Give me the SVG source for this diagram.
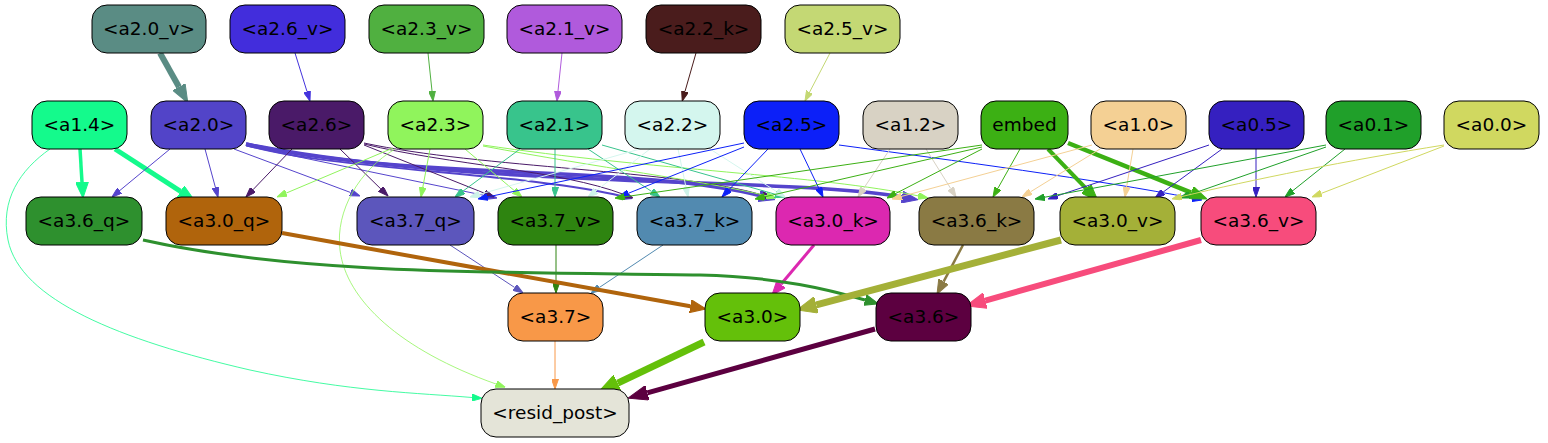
<svg xmlns="http://www.w3.org/2000/svg" width="1548" height="443" viewBox="0 0 1548 443">
<style>
.n rect{stroke:#000;stroke-width:1}
.n text{font-family:"DejaVu Sans","Liberation Sans",sans-serif;font-size:18.5px;text-anchor:middle;fill:#000}
.e path{fill:none}
</style>
<defs>
<marker id="t-26v" viewBox="0 0 10 7" refX="0" refY="3.5" markerWidth="10" markerHeight="7" markerUnits="userSpaceOnUse" orient="auto"><path d="M0,0L10,3.5L0,7z" fill="#4433dd" stroke="#4433dd"/></marker>
<marker id="t-23v" viewBox="0 0 10 7" refX="0" refY="3.5" markerWidth="10" markerHeight="7" markerUnits="userSpaceOnUse" orient="auto"><path d="M0,0L10,3.5L0,7z" fill="#50b040" stroke="#50b040"/></marker>
<marker id="t-21v" viewBox="0 0 10 7" refX="0" refY="3.5" markerWidth="10" markerHeight="7" markerUnits="userSpaceOnUse" orient="auto"><path d="M0,0L10,3.5L0,7z" fill="#b05adc" stroke="#b05adc"/></marker>
<marker id="t-22k" viewBox="0 0 10 7" refX="0" refY="3.5" markerWidth="10" markerHeight="7" markerUnits="userSpaceOnUse" orient="auto"><path d="M0,0L10,3.5L0,7z" fill="#4a1c1c" stroke="#4a1c1c"/></marker>
<marker id="t-25v" viewBox="0 0 10 7" refX="0" refY="3.5" markerWidth="10" markerHeight="7" markerUnits="userSpaceOnUse" orient="auto"><path d="M0,0L10,3.5L0,7z" fill="#c4d874" stroke="#c4d874"/></marker>
<marker id="t-14" viewBox="0 0 10 7" refX="0" refY="3.5" markerWidth="10" markerHeight="7" markerUnits="userSpaceOnUse" orient="auto"><path d="M0,0L10,3.5L0,7z" fill="#14fa8c" stroke="#14fa8c"/></marker>
<marker id="t-20" viewBox="0 0 10 7" refX="0" refY="3.5" markerWidth="10" markerHeight="7" markerUnits="userSpaceOnUse" orient="auto"><path d="M0,0L10,3.5L0,7z" fill="#5544cc" stroke="#5544cc"/></marker>
<marker id="t-26" viewBox="0 0 10 7" refX="0" refY="3.5" markerWidth="10" markerHeight="7" markerUnits="userSpaceOnUse" orient="auto"><path d="M0,0L10,3.5L0,7z" fill="#4a1a68" stroke="#4a1a68"/></marker>
<marker id="t-23" viewBox="0 0 10 7" refX="0" refY="3.5" markerWidth="10" markerHeight="7" markerUnits="userSpaceOnUse" orient="auto"><path d="M0,0L10,3.5L0,7z" fill="#90f45c" stroke="#90f45c"/></marker>
<marker id="t-21" viewBox="0 0 10 7" refX="0" refY="3.5" markerWidth="10" markerHeight="7" markerUnits="userSpaceOnUse" orient="auto"><path d="M0,0L10,3.5L0,7z" fill="#38c48c" stroke="#38c48c"/></marker>
<marker id="t-22" viewBox="0 0 10 7" refX="0" refY="3.5" markerWidth="10" markerHeight="7" markerUnits="userSpaceOnUse" orient="auto"><path d="M0,0L10,3.5L0,7z" fill="#cdf2e8" stroke="#cdf2e8"/></marker>
<marker id="t-25" viewBox="0 0 10 7" refX="0" refY="3.5" markerWidth="10" markerHeight="7" markerUnits="userSpaceOnUse" orient="auto"><path d="M0,0L10,3.5L0,7z" fill="#0c20f8" stroke="#0c20f8"/></marker>
<marker id="t-12" viewBox="0 0 10 7" refX="0" refY="3.5" markerWidth="10" markerHeight="7" markerUnits="userSpaceOnUse" orient="auto"><path d="M0,0L10,3.5L0,7z" fill="#d8d2c4" stroke="#d8d2c4"/></marker>
<marker id="t-em" viewBox="0 0 10 7" refX="0" refY="3.5" markerWidth="10" markerHeight="7" markerUnits="userSpaceOnUse" orient="auto"><path d="M0,0L10,3.5L0,7z" fill="#3cb014" stroke="#3cb014"/></marker>
<marker id="t-10" viewBox="0 0 10 7" refX="0" refY="3.5" markerWidth="10" markerHeight="7" markerUnits="userSpaceOnUse" orient="auto"><path d="M0,0L10,3.5L0,7z" fill="#f4d094" stroke="#f4d094"/></marker>
<marker id="t-05" viewBox="0 0 10 7" refX="0" refY="3.5" markerWidth="10" markerHeight="7" markerUnits="userSpaceOnUse" orient="auto"><path d="M0,0L10,3.5L0,7z" fill="#3520c0" stroke="#3520c0"/></marker>
<marker id="t-01" viewBox="0 0 10 7" refX="0" refY="3.5" markerWidth="10" markerHeight="7" markerUnits="userSpaceOnUse" orient="auto"><path d="M0,0L10,3.5L0,7z" fill="#20a02a" stroke="#20a02a"/></marker>
<marker id="t-00" viewBox="0 0 10 7" refX="0" refY="3.5" markerWidth="10" markerHeight="7" markerUnits="userSpaceOnUse" orient="auto"><path d="M0,0L10,3.5L0,7z" fill="#d0d860" stroke="#d0d860"/></marker>
<marker id="t-37q" viewBox="0 0 10 7" refX="0" refY="3.5" markerWidth="10" markerHeight="7" markerUnits="userSpaceOnUse" orient="auto"><path d="M0,0L10,3.5L0,7z" fill="#5c56bc" stroke="#5c56bc"/></marker>
<marker id="t-37v" viewBox="0 0 10 7" refX="0" refY="3.5" markerWidth="10" markerHeight="7" markerUnits="userSpaceOnUse" orient="auto"><path d="M0,0L10,3.5L0,7z" fill="#2e8410" stroke="#2e8410"/></marker>
<marker id="t-37k" viewBox="0 0 10 7" refX="0" refY="3.5" markerWidth="10" markerHeight="7" markerUnits="userSpaceOnUse" orient="auto"><path d="M0,0L10,3.5L0,7z" fill="#528ab0" stroke="#528ab0"/></marker>
<marker id="t-37" viewBox="0 0 10 7" refX="0" refY="3.5" markerWidth="10" markerHeight="7" markerUnits="userSpaceOnUse" orient="auto"><path d="M0,0L10,3.5L0,7z" fill="#f89848" stroke="#f89848"/></marker>
<marker id="k-20v" viewBox="0 0 18 14" refX="0" refY="7" markerWidth="18" markerHeight="14" markerUnits="userSpaceOnUse" orient="auto"><path d="M0,0L18,7L0,14z" fill="#5a8c84" stroke="#5a8c84"/></marker>
<marker id="k-14" viewBox="0 0 16 13" refX="0" refY="6.5" markerWidth="16" markerHeight="13" markerUnits="userSpaceOnUse" orient="auto"><path d="M0,0L16,6.5L0,13z" fill="#14fa8c" stroke="#14fa8c"/></marker>
<marker id="k-20" viewBox="0 0 16 12" refX="0" refY="6" markerWidth="16" markerHeight="12" markerUnits="userSpaceOnUse" orient="auto"><path d="M0,0L16,6L0,12z" fill="#5544cc" stroke="#5544cc"/></marker>
<marker id="k-em" viewBox="0 0 17 13" refX="0" refY="6.5" markerWidth="17" markerHeight="13" markerUnits="userSpaceOnUse" orient="auto"><path d="M0,0L17,6.5L0,13z" fill="#3cb014" stroke="#3cb014"/></marker>
<marker id="k-30q" viewBox="0 0 16 13" refX="0" refY="6.5" markerWidth="16" markerHeight="13" markerUnits="userSpaceOnUse" orient="auto"><path d="M0,0L16,6.5L0,13z" fill="#b0640c" stroke="#b0640c"/></marker>
<marker id="k-30k" viewBox="0 0 14 11" refX="0" refY="5.5" markerWidth="14" markerHeight="11" markerUnits="userSpaceOnUse" orient="auto"><path d="M0,0L14,5.5L0,11z" fill="#dc28b0" stroke="#dc28b0"/></marker>
<marker id="k-36q" viewBox="0 0 14 11" refX="0" refY="5.5" markerWidth="14" markerHeight="11" markerUnits="userSpaceOnUse" orient="auto"><path d="M0,0L14,5.5L0,11z" fill="#2e902e" stroke="#2e902e"/></marker>
<marker id="k-36k" viewBox="0 0 14 11" refX="0" refY="5.5" markerWidth="14" markerHeight="11" markerUnits="userSpaceOnUse" orient="auto"><path d="M0,0L14,5.5L0,11z" fill="#8a7a44" stroke="#8a7a44"/></marker>
<marker id="k-30v" viewBox="0 0 20 17" refX="0" refY="8.5" markerWidth="20" markerHeight="17" markerUnits="userSpaceOnUse" orient="auto"><path d="M0,0L20,8.5L0,17z" fill="#a4b038" stroke="#a4b038"/></marker>
<marker id="k-36v" viewBox="0 0 20 16" refX="0" refY="8" markerWidth="20" markerHeight="16" markerUnits="userSpaceOnUse" orient="auto"><path d="M0,0L20,8L0,16z" fill="#f74c7c" stroke="#f74c7c"/></marker>
<marker id="k-30" viewBox="0 0 22 18" refX="0" refY="9" markerWidth="22" markerHeight="18" markerUnits="userSpaceOnUse" orient="auto"><path d="M0,0L22,9L0,18z" fill="#64c00a" stroke="#64c00a"/></marker>
<marker id="k-36" viewBox="0 0 20 15" refX="0" refY="7.5" markerWidth="20" markerHeight="15" markerUnits="userSpaceOnUse" orient="auto"><path d="M0,0L20,7.5L0,15z" fill="#5c0040" stroke="#5c0040"/></marker>
</defs>
<g id="edges" class="e">
<path d="M160,53L179,87" stroke="#5a8c84" stroke-width="6" marker-end="url(#k-20v)"/>
<path d="M295,53L307,91.5" stroke="#4433dd" marker-end="url(#t-26v)"/>
<path d="M428,53L432,91" stroke="#50b040" marker-end="url(#t-23v)"/>
<path d="M562,53L558,91" stroke="#b05adc" marker-end="url(#t-21v)"/>
<path d="M696,53L685,91.4" stroke="#4a1c1c" marker-end="url(#t-22k)"/>
<path d="M830,53L809.6,92.1" stroke="#c4d874" marker-end="url(#t-25v)"/>
<path d="M80,149L82,182" stroke="#14fa8c" stroke-width="3.5" marker-end="url(#k-14)"/>
<path d="M115,149L180.6,191.3" stroke="#14fa8c" stroke-width="5" marker-end="url(#k-14)"/>
<path d="M50,149C20,170 0,200 8,240C20,300 120,340 250,370C350,392 420,393 472,397.5" stroke="#14fa8c" stroke-width="0.8" marker-end="url(#t-14)"/>
<path d="M170,149L119.7,190.6" stroke="#5544cc" marker-end="url(#t-20)"/>
<path d="M205,149L215.4,187.4" stroke="#5544cc" marker-end="url(#t-20)"/>
<path d="M234,149L350.6,192.5" stroke="#5544cc" marker-end="url(#t-20)"/>
<path d="M246,146L487.2,196" stroke="#5544cc" marker-end="url(#t-20)"/>
<path d="M246,145C330,170 520,172 622.3,196.2" stroke="#5544cc" stroke-width="2" marker-end="url(#t-20)"/>
<path d="M246,144C400,180 640,165 759.4,195.6" stroke="#5544cc" stroke-width="3.5" marker-end="url(#k-20)"/>
<path d="M246,144C480,190 780,176 902,197" stroke="#5544cc" stroke-width="3.5" marker-end="url(#k-20)"/>
<path d="M292,149L252.9,189.8" stroke="#4a1a68" marker-end="url(#t-26)"/>
<path d="M340,149L380.9,189" stroke="#4a1a68" marker-end="url(#t-26)"/>
<path d="M364,145L484.7,193.3" stroke="#4a1a68" marker-end="url(#t-26)"/>
<path d="M364,144C450,165 560,170 623.7,194.4" stroke="#4a1a68" marker-end="url(#t-26)"/>
<path d="M364,143C480,168 680,170 762.4,195.1" stroke="#4a1a68" marker-end="url(#t-26)"/>
<path d="M393,148L286.2,193.1" stroke="#90f45c" marker-end="url(#t-23)"/>
<path d="M430,149L422.8,187.2" stroke="#90f45c" marker-end="url(#t-23)"/>
<path d="M465,149L514.3,190.6" stroke="#90f45c" marker-end="url(#t-23)"/>
<path d="M483,146C600,168 700,180 766.3,195.7" stroke="#90f45c" marker-end="url(#t-23)"/>
<path d="M483,145C650,170 820,175 918.2,195.9" stroke="#90f45c" marker-end="url(#t-23)"/>
<path d="M395,149C360,170 335,210 340,250C346,300 400,350 496,384" stroke="#90f45c" stroke-width="0.8" marker-end="url(#t-23)"/>
<path d="M520,149L463,191.1" stroke="#38c48c" marker-end="url(#t-21)"/>
<path d="M555,149L555,187" stroke="#38c48c" marker-end="url(#t-21)"/>
<path d="M588,149L651.7,191.5" stroke="#38c48c" marker-end="url(#t-21)"/>
<path d="M602,145L775.4,194.3" stroke="#38c48c" marker-end="url(#t-21)"/>
<path d="M640,149L479.6,194.3" stroke="#d4f6ee" marker-end="url(#t-22)"/>
<path d="M650,149L595.9,190.9" stroke="#d4f6ee" marker-end="url(#t-22)"/>
<path d="M678,149L686,187.2" stroke="#d4f6ee" marker-end="url(#t-22)"/>
<path d="M710,149L776.6,191.6" stroke="#d4f6ee" marker-end="url(#t-22)"/>
<path d="M744,143L487.8,196.9" stroke="#0c20f8" marker-end="url(#t-25)"/>
<path d="M744,147L628.3,193.3" stroke="#0c20f8" marker-end="url(#t-25)"/>
<path d="M768,149L728.9,189.8" stroke="#0c20f8" marker-end="url(#t-25)"/>
<path d="M800,149L818.7,188" stroke="#0c20f8" marker-end="url(#t-25)"/>
<path d="M839,145C950,160 1100,180 1192.2,198.1" stroke="#0c20f8" marker-end="url(#t-25)"/>
<path d="M890,149L863.5,188.7" stroke="#d8d2c4" marker-end="url(#t-12)"/>
<path d="M926,149L950.7,188.5" stroke="#d8d2c4" marker-end="url(#t-12)"/>
<path d="M982,145L624.7,196.8" stroke="#3cb014" marker-end="url(#t-em)"/>
<path d="M982,147L764.7,196.8" stroke="#3cb014" marker-end="url(#t-em)"/>
<path d="M982,149L895.9,193.4" stroke="#3cb014" marker-end="url(#t-em)"/>
<path d="M1020,149L997.9,188.3" stroke="#3cb014" marker-end="url(#t-em)"/>
<path d="M1048,149L1086.2,188.7" stroke="#3cb014" stroke-width="4" marker-end="url(#k-em)"/>
<path d="M1068,143L1191.2,192.6" stroke="#3cb014" stroke-width="4.5" marker-end="url(#k-em)"/>
<path d="M1092,145L901.7,196.4" stroke="#f4d094" marker-end="url(#t-10)"/>
<path d="M1100,149L1030.5,191.8" stroke="#f4d094" marker-end="url(#t-10)"/>
<path d="M1133,149L1126.6,187.1" stroke="#f4d094" marker-end="url(#t-10)"/>
<path d="M1209,145L1057.5,195.8" stroke="#3520c0" marker-end="url(#t-05)"/>
<path d="M1222,149L1163.1,192.1" stroke="#3520c0" marker-end="url(#t-05)"/>
<path d="M1256,149L1256,187" stroke="#3520c0" marker-end="url(#t-05)"/>
<path d="M1326,145L1044.8,197.2" stroke="#20a02a" marker-end="url(#t-01)"/>
<path d="M1326,147L1189.4,194.7" stroke="#20a02a" marker-end="url(#t-01)"/>
<path d="M1345,149L1292.8,190.7" stroke="#20a02a" marker-end="url(#t-01)"/>
<path d="M1444,145C1350,160 1250,180 1181.7,196.6" stroke="#d0d860" marker-end="url(#t-00)"/>
<path d="M1444,146L1321.3,193.4" stroke="#d0d860" marker-end="url(#t-00)"/>
<path d="M450,245L514.7,287.5" stroke="#5c56bc" marker-end="url(#t-37q)"/>
<path d="M556,245L556,283" stroke="#2e8410" marker-end="url(#t-37v)"/>
<path d="M663,245L599.3,287.5" stroke="#528ab0" marker-end="url(#t-37k)"/>
<path d="M282,233L690.3,306.2" stroke="#b0640c" stroke-width="4" marker-end="url(#k-30q)"/>
<path d="M814,245L781,284.3" stroke="#dc28b0" stroke-width="3" marker-end="url(#k-30k)"/>
<path d="M143,240C300,275 500,272 700,275C780,277 830,290 865,300" stroke="#2e902e" stroke-width="3" marker-end="url(#k-36q)"/>
<path d="M963,245L943.6,281.6" stroke="#8a7a44" stroke-width="2.5" marker-end="url(#k-36k)"/>
<path d="M1061,240L816.3,304.9" stroke="#a4b038" stroke-width="7" marker-end="url(#k-30v)"/>
<path d="M1201,240L985.3,300.6" stroke="#f74c7c" stroke-width="6" marker-end="url(#k-36v)"/>
<path d="M555,341L555,379" stroke="#f89848" marker-end="url(#t-37)"/>
<path d="M704,342L617.7,383.2" stroke="#64c00a" stroke-width="7" marker-end="url(#k-30)"/>
<path d="M875,329L647.3,392.8" stroke="#5c0040" stroke-width="5" marker-end="url(#k-36)"/>
</g>
<g id="a2.0_v" class="n"><rect x="92" y="5" width="114" height="48" rx="15" fill="#5a8c84"/><text x="149" y="35">&lt;a2.0_v&gt;</text></g>
<g id="a2.6_v" class="n"><rect x="230" y="5" width="115" height="48" rx="15" fill="#422ddc"/><text x="287.5" y="35">&lt;a2.6_v&gt;</text></g>
<g id="a2.3_v" class="n"><rect x="369" y="5" width="115" height="48" rx="15" fill="#50b040"/><text x="426.5" y="35">&lt;a2.3_v&gt;</text></g>
<g id="a2.1_v" class="n"><rect x="507" y="5" width="115" height="48" rx="15" fill="#b05adc"/><text x="564.5" y="35">&lt;a2.1_v&gt;</text></g>
<g id="a2.2_k" class="n"><rect x="646" y="5" width="115" height="48" rx="15" fill="#4a1c1c"/><text x="703.5" y="35">&lt;a2.2_k&gt;</text></g>
<g id="a2.5_v" class="n"><rect x="785" y="5" width="115" height="48" rx="15" fill="#c4d874"/><text x="842.5" y="35">&lt;a2.5_v&gt;</text></g>
<g id="a1.4" class="n"><rect x="32" y="101" width="95" height="48" rx="15" fill="#14fa8c"/><text x="79.5" y="131">&lt;a1.4&gt;</text></g>
<g id="a2.0" class="n"><rect x="151" y="101" width="95" height="48" rx="15" fill="#5244c8"/><text x="198.5" y="131">&lt;a2.0&gt;</text></g>
<g id="a2.6" class="n"><rect x="269" y="101" width="95" height="48" rx="15" fill="#4a1a68"/><text x="316.5" y="131">&lt;a2.6&gt;</text></g>
<g id="a2.3" class="n"><rect x="388" y="101" width="95" height="48" rx="15" fill="#90f45c"/><text x="435.5" y="131">&lt;a2.3&gt;</text></g>
<g id="a2.1" class="n"><rect x="507" y="101" width="95" height="48" rx="15" fill="#38c48c"/><text x="554.5" y="131">&lt;a2.1&gt;</text></g>
<g id="a2.2" class="n"><rect x="625" y="101" width="95" height="48" rx="15" fill="#d4f6ee"/><text x="672.5" y="131">&lt;a2.2&gt;</text></g>
<g id="a2.5" class="n"><rect x="744" y="101" width="95" height="48" rx="15" fill="#0c20f8"/><text x="791.5" y="131">&lt;a2.5&gt;</text></g>
<g id="a1.2" class="n"><rect x="863" y="101" width="95" height="48" rx="15" fill="#d8d2c4"/><text x="910.5" y="131">&lt;a1.2&gt;</text></g>
<g id="embed" class="n"><rect x="981" y="101" width="87" height="48" rx="15" fill="#3cb014"/><text x="1024.5" y="131">embed</text></g>
<g id="a1.0" class="n"><rect x="1091" y="101" width="95" height="48" rx="15" fill="#f4d094"/><text x="1138.5" y="131">&lt;a1.0&gt;</text></g>
<g id="a0.5" class="n"><rect x="1209" y="101" width="95" height="48" rx="15" fill="#3520c0"/><text x="1256.5" y="131">&lt;a0.5&gt;</text></g>
<g id="a0.1" class="n"><rect x="1326" y="101" width="95" height="48" rx="15" fill="#20a02a"/><text x="1373.5" y="131">&lt;a0.1&gt;</text></g>
<g id="a0.0" class="n"><rect x="1444" y="101" width="95" height="48" rx="15" fill="#d0d860"/><text x="1491.5" y="131">&lt;a0.0&gt;</text></g>
<g id="a3.6_q" class="n"><rect x="26" y="197" width="116" height="48" rx="15" fill="#2e902e"/><text x="84" y="227">&lt;a3.6_q&gt;</text></g>
<g id="a3.0_q" class="n"><rect x="166" y="197" width="116" height="48" rx="15" fill="#b0640c"/><text x="224" y="227">&lt;a3.0_q&gt;</text></g>
<g id="a3.7_q" class="n"><rect x="357" y="197" width="117" height="48" rx="15" fill="#5c56bc"/><text x="415.5" y="227">&lt;a3.7_q&gt;</text></g>
<g id="a3.7_v" class="n"><rect x="498" y="197" width="115" height="48" rx="15" fill="#2e8410"/><text x="555.5" y="227">&lt;a3.7_v&gt;</text></g>
<g id="a3.7_k" class="n"><rect x="637" y="197" width="115" height="48" rx="15" fill="#528ab0"/><text x="694.5" y="227">&lt;a3.7_k&gt;</text></g>
<g id="a3.0_k" class="n"><rect x="776" y="197" width="114" height="48" rx="15" fill="#dc28b0"/><text x="833" y="227">&lt;a3.0_k&gt;</text></g>
<g id="a3.6_k" class="n"><rect x="919" y="197" width="115" height="48" rx="15" fill="#8a7a44"/><text x="976.5" y="227">&lt;a3.6_k&gt;</text></g>
<g id="a3.0_v" class="n"><rect x="1060" y="197" width="115" height="48" rx="15" fill="#a4b038"/><text x="1117.5" y="227">&lt;a3.0_v&gt;</text></g>
<g id="a3.6_v" class="n"><rect x="1201" y="197" width="115" height="48" rx="15" fill="#f74c7c"/><text x="1258.5" y="227">&lt;a3.6_v&gt;</text></g>
<g id="a3.7" class="n"><rect x="508" y="293" width="95" height="48" rx="15" fill="#f89848"/><text x="555.5" y="323">&lt;a3.7&gt;</text></g>
<g id="a3.0" class="n"><rect x="705" y="293" width="95" height="48" rx="15" fill="#64c00a"/><text x="752.5" y="323">&lt;a3.0&gt;</text></g>
<g id="a3.6" class="n"><rect x="876" y="293" width="95" height="48" rx="15" fill="#5c0040"/><text x="923.5" y="323">&lt;a3.6&gt;</text></g>
<g id="resid_post" class="n"><rect x="481" y="389" width="148" height="48" rx="15" fill="#e4e4d8"/><text x="555" y="419">&lt;resid_post&gt;</text></g>
</svg>
